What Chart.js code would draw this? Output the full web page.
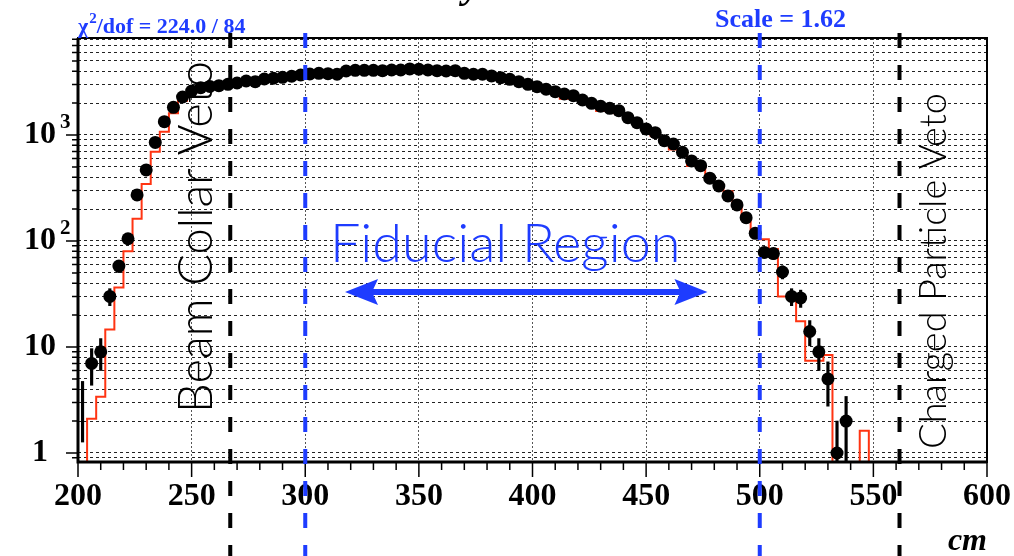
<!DOCTYPE html>
<html>
<head>
<meta charset="utf-8">
<script src="https://cdn.jsdelivr.net/npm/chart.js@4.4.1/dist/chart.umd.min.js"></script>
<style>
  html, body { margin: 0; padding: 0; background: #fff; }
  #wrap { width: 1014px; height: 556px; position: relative; }
</style>
</head>
<body>
<div id="wrap"><canvas id="grafico"></canvas></div>
<script>
// bins of 4 cm from 200 to 600 cm (100 bins)
const binStart = 200;
const binWidth = 4;

// data counts per bin (black points)
const dataCounts = [
  3, 7, 9, 30, 58, 105, 272, 468, 850, 1335,
  1825, 2282, 2600, 2795, 2870, 2918, 3008, 3095, 3230, 3184,
  3375, 3428, 3502, 3580, 3680, 3760, 3820, 3787, 3740, 4016,
  4075, 4075, 4075, 4045, 4105, 4105, 4200, 4170, 4105, 4045,
  4016, 4045, 3820, 3740, 3740, 3605, 3473, 3350, 3184, 3008,
  2855, 2700, 2561, 2436, 2348, 2138, 1990, 1866, 1786, 1695,
  1456, 1306, 1140, 1052, 883, 822, 687, 569, 513, 391,
  330, 266, 219, 166, 118, 78, 76, 51, 30, 29,
  14, 9, 5, 1, 2, 0, 0, 0, 0, 0,
  0, 0, 0, 0, 0, 0, 0, 0, 0, 0
];

// simulation (red histogram), scaled by 1.62
const mcHisto = [
  0, 2.1, 3.4, 14.6, 36.5, 80, 162, 345, 695, 1075,
  1600, 2100, 2500, 2750, 2880, 3050, 3050, 3120, 3200, 3300,
  3380, 3450, 3520, 3600, 3680, 3760, 3800, 3820, 3850, 3950,
  4020, 4060, 4080, 4080, 4100, 4120, 4140, 4130, 4100, 4060,
  4000, 3950, 3860, 3760, 3700, 3580, 3460, 3330, 3180, 3020,
  2860, 2700, 2560, 2200, 2300, 2120, 1980, 1680, 1760, 1600,
  1420, 1290, 1120, 980, 880, 730, 680, 510, 500, 395,
  330, 295, 218, 160, 120, 104, 84, 30, 30, 17.5,
  7.4, 7.4, 8.4, 0, 0, 0, 1.62, 0, 0, 0,
  0, 0, 0, 0, 0, 0, 0, 0, 0, 0
];

// first bin: only the error bar is visible
const hiddenMarkers = [202];

const xMin = 200, xMax = 600;
const xLabels = [200, 250, 300, 350, 400, 450, 500, 550, 600];
const yMin = 0.822, yMax = 8222;
const yLabelValues = [1, 10, 100, 1000];
const yLabelBase = ["1", "10", "10", "10"];
const yLabelSup = ["", "", "2", "3"];

const vetoCuts = [267, 561.5];
const fiducialCuts = [300, 500];

const AZUL = "#1e3cff";
const ROJO = "#ff3412";

// build what Chart.js needs
const histPoints = [];
const dataPoints = [];
const errorBars = [];
for (let i = 0; i < mcHisto.length; i++) {
  const edge = binStart + i * binWidth;
  histPoints.push({ x: edge, y: mcHisto[i] > 0 ? mcHisto[i] : yMin });
  const c = edge + binWidth / 2;
  const n = dataCounts[i];
  if (n > 0) {
    dataPoints.push({ x: c, y: n });
    const e = Math.sqrt(n);
    errorBars.push({ x: c, y: [Math.max(n - e, yMin), n + e] });
  }
}
histPoints.push({ x: xMax, y: mcHisto[mcHisto.length - 1] > 0 ? mcHisto[mcHisto.length - 1] : yMin });

const yGridValues = [0.9];
for (let k = 0; k < 4; k++) {
  for (let m = 1; m <= 9; m++) {
    const v = m * Math.pow(10, k);
    if (v < yMax) yGridValues.push(v);
  }
}

function flecha(ctx, x1, x2, y) {
  ctx.lineWidth = 6;
  ctx.beginPath();
  ctx.moveTo(x1 + 20, y);
  ctx.lineTo(x2 - 20, y);
  ctx.stroke();
  ctx.beginPath();
  ctx.moveTo(x1, y);
  ctx.lineTo(x1 + 33, y - 13);
  ctx.lineTo(x1 + 27, y);
  ctx.lineTo(x1 + 33, y + 13);
  ctx.closePath();
  ctx.fill();
  ctx.beginPath();
  ctx.moveTo(x2, y);
  ctx.lineTo(x2 - 33, y - 13);
  ctx.lineTo(x2 - 27, y);
  ctx.lineTo(x2 - 33, y + 13);
  ctx.closePath();
  ctx.fill();
}

const marco = {
  id: "marco",
  afterDraw(chart) {
    const ctx = chart.ctx;
    const a = chart.chartArea;
    const xs = chart.scales.x;
    const ys = chart.scales.y;
    ctx.save();

    // axis ticks
    ctx.strokeStyle = "#000";
    ctx.lineWidth = 1.5;
    ctx.beginPath();
    for (let v = xMin; v <= xMax; v += 10) {
      const px = xs.getPixelForValue(v);
      const len = v % 50 === 0 ? 15 : 8;
      ctx.moveTo(px, a.bottom);
      ctx.lineTo(px, a.bottom + len);
    }
    ys.ticks.forEach(t => {
      const py = ys.getPixelForValue(t.value);
      const len = yLabelValues.includes(t.value) ? 12 : 6;
      ctx.moveTo(a.left, py);
      ctx.lineTo(a.left - len, py);
    });
    ctx.stroke();

    // frame
    ctx.lineWidth = 2;
    ctx.strokeRect(a.left, a.top, a.right - a.left, a.bottom - a.top);
    ctx.lineWidth = 3;
    ctx.beginPath();
    ctx.moveTo(a.left, a.top);
    ctx.lineTo(a.left, a.bottom);
    ctx.lineTo(a.right, a.bottom);
    ctx.stroke();

    // tick labels
    ctx.fillStyle = "#000";
    ctx.font = 'bold 32px "Liberation Serif"';
    ctx.textAlign = "center";
    ctx.textBaseline = "alphabetic";
    xLabels.forEach(v => {
      ctx.fillText(String(v), xs.getPixelForValue(v), a.bottom + 43);
    });
    ctx.textBaseline = "middle";
    yLabelValues.forEach((v, i) => {
      const py = ys.getPixelForValue(v);
      ctx.font = 'bold 32px "Liberation Serif"';
      ctx.textAlign = "center";
      ctx.fillText(yLabelBase[i], 40, py);
      if (yLabelSup[i]) {
        const w = ctx.measureText(yLabelBase[i]).width;
        ctx.font = 'bold 21px "Liberation Serif"';
        ctx.textAlign = "left";
        ctx.fillText(yLabelSup[i], 40 + w / 2 + 4, py - 12);
      }
    });

    // unit and cut-off title
    ctx.textBaseline = "alphabetic";
    ctx.textAlign = "right";
    ctx.font = 'italic bold 32px "Liberation Serif"';
    ctx.fillText("cm", a.right, 550);
    ctx.textAlign = "center";
    ctx.font = 'italic bold 40px "Liberation Serif"';
    ctx.fillText("y", 472, -3);

    // dashed cut lines
    ctx.lineWidth = 4;
    ctx.setLineDash([15, 17]);
    ctx.strokeStyle = "#000";
    vetoCuts.forEach(v => {
      const px = xs.getPixelForValue(v);
      ctx.beginPath();
      ctx.moveTo(px, 33);
      ctx.lineTo(px, 556);
      ctx.stroke();
    });
    ctx.strokeStyle = AZUL;
    fiducialCuts.forEach(v => {
      const px = xs.getPixelForValue(v);
      ctx.beginPath();
      ctx.moveTo(px, 33);
      ctx.lineTo(px, 556);
      ctx.stroke();
    });
    ctx.setLineDash([]);

    // fit info
    ctx.fillStyle = AZUL;
    ctx.textAlign = "left";
    ctx.font = 'bold 22px "Liberation Serif"';
    ctx.fillText("\u03c7", a.left, 33);
    let px = a.left + ctx.measureText("\u03c7").width;
    ctx.font = 'bold 15px "Liberation Serif"';
    ctx.fillText("2", px + 1, 23);
    px += ctx.measureText("2").width + 1;
    ctx.font = 'bold 22px "Liberation Serif"';
    ctx.fillText("/dof = 224.0 / 84", px, 33);
    ctx.font = 'bold 26px "Liberation Serif"';
    ctx.fillText("Scale = 1.62", 715, 27);

    // region labels
    ctx.font = '300 54px Lato';
    ctx.textAlign = "center";
    ctx.fillText("Fiducial Region", xs.getPixelForValue(388), ys.getPixelForValue(63));
    ctx.strokeStyle = AZUL;
    flecha(ctx, xs.getPixelForValue(317.5), xs.getPixelForValue(477), ys.getPixelForValue(33));

    ctx.fillStyle = "#000";
    ctx.save();
    ctx.translate(xs.getPixelForValue(259), ys.getPixelForValue(109));
    ctx.rotate(-Math.PI / 2);
    ctx.font = '300 47px Lato';
    ctx.fillText("Beam Collar Veto", 0, 0);
    ctx.restore();
    ctx.save();
    ctx.translate(xs.getPixelForValue(582), ys.getPixelForValue(52));
    ctx.rotate(-Math.PI / 2);
    ctx.font = '300 38px Lato';
    ctx.fillText("Charged Particle Veto", 0, 0);
    ctx.restore();

    ctx.restore();
  }
};

new Chart(document.getElementById("grafico"), {
  type: "line",
  data: {
    datasets: [
      {
        label: "MC",
        data: histPoints,
        stepped: true,
        borderColor: ROJO,
        borderWidth: 2,
        pointRadius: 0,
        fill: false,
        order: 3
      },
      {
        type: "bar",
        label: "errores",
        data: errorBars,
        backgroundColor: "#000",
        borderWidth: 0,
        barThickness: 2.5,
        order: 2
      },
      {
        label: "Datos",
        data: dataPoints,
        showLine: false,
        pointRadius: c => (c.raw && hiddenMarkers.includes(c.raw.x) ? 0 : 6.5),
        pointBackgroundColor: "#000",
        pointBorderWidth: 0,
        order: 1
      }
    ]
  },
  options: {
    responsive: true,
    maintainAspectRatio: false,
    animation: false,
    layout: { padding: { left: 0, top: 38, right: 27, bottom: 0 } },
    plugins: { legend: { display: false }, tooltip: { enabled: false } },
    scales: {
      x: {
        type: "linear",
        min: xMin,
        max: xMax,
        offset: false,
        ticks: { display: false, stepSize: 50 },
        grid: { color: "#555", lineWidth: 1, drawTicks: false, offset: false },
        border: { display: false, dash: [2, 2] },
        afterFit: s => { s.height = 94; }
      },
      y: {
        type: "logarithmic",
        min: yMin,
        max: yMax,
        ticks: { display: false },
        grid: { color: "#222", lineWidth: 1, drawTicks: false },
        border: { display: false, dash: [3, 3] },
        afterBuildTicks: s => { s.ticks = yGridValues.map(v => ({ value: v })); },
        afterFit: s => { s.width = 78; }
      }
    }
  },
  plugins: [marco]
});
</script>
</body>
</html>
